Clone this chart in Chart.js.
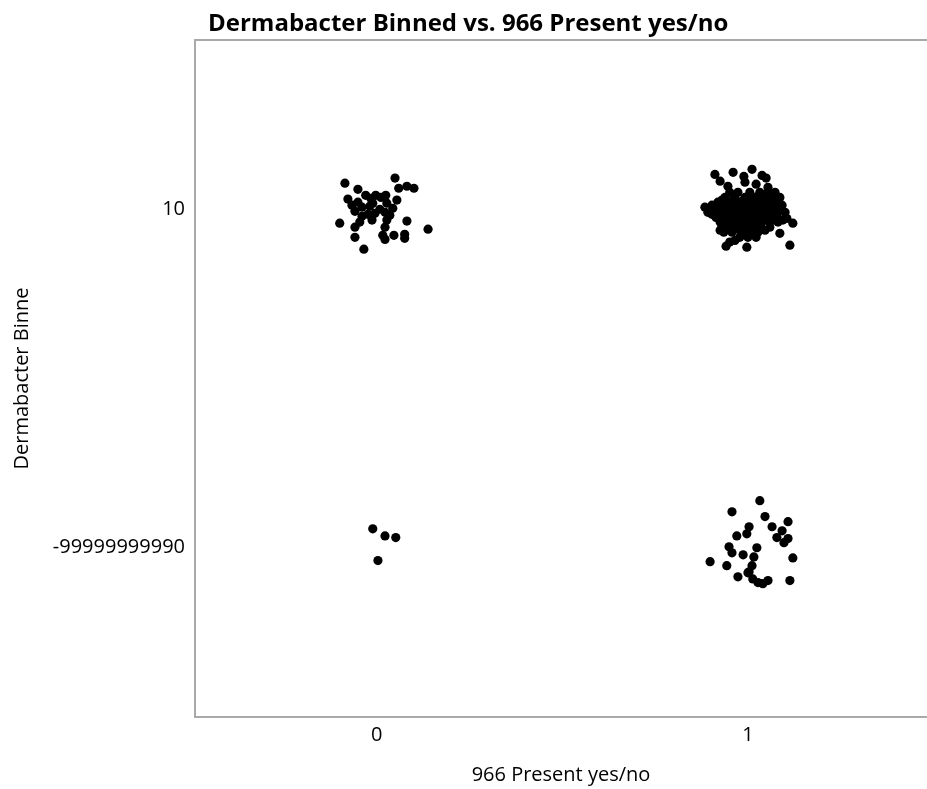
<!DOCTYPE html>
<html>
<head>
<meta charset="utf-8">
<title>Dermabacter Binned vs. 966 Present yes/no</title>
<script src="https://cdn.jsdelivr.net/npm/chart.js@4.4.0/dist/chart.umd.min.js"></script>
<style>
    html, body { margin: 0; padding: 0; background: #fff; }
    canvas { display: block; }
</style>
</head>
<body>
<canvas id="chart" width="927" height="789"></canvas>
<script>
// Etiquetas de los ejes (posicion 0 y 1 de cada eje)
const xTickLabels = ['0', '1'];
const yTickLabels = ['-99999999990', '10'];

// Puntos con jitter: 966 ausente (x=0), Dermabacter = 10 (y=1)
const absentTopX = [
    -0.086, 0.049, -0.051, 0.059, 0.081, 0.100, -0.078, 0.054, 0.043, -0.100,
    -0.059, -0.013, 0.027, 0.022, 0.081, 0.138, -0.059, 0.016, 0.022, 0.046,
    0.075, 0.075, -0.035, -0.051, -0.040, -0.030, -0.016, -0.003, 0.011, 0.024,
    0.027, 0.008, -0.005, -0.024, -0.040, -0.059, -0.067, -0.019, 0.022, 0.035,
    -0.011, -0.046
];
const absentTopY = [
    1.077, 1.092, 1.059, 1.062, 1.068, 1.062, 1.030, 1.027, 1.003, 0.959,
    0.947, 0.968, 0.968, 0.947, 0.965, 0.941, 0.917, 0.923, 0.911, 0.923,
    0.926, 0.914, 0.882, 1.021, 1.006, 1.041, 1.032, 1.041, 1.035, 1.041,
    1.018, 1.000, 0.988, 0.985, 0.979, 0.994, 1.012, 1.009, 0.991, 0.982,
    1.018, 0.962
];

// 966 ausente (x=0), Dermabacter = -99999999990 (y=0)
const absentLowX = [-0.011, 0.022, 0.051, 0.003];
const absentLowY = [0.056, 0.035, 0.030, -0.038];

// 966 presente (x=1), Dermabacter = 10 (y=1)
const presentTopX = [
    0.911, 0.960, 1.011, 0.989, 1.038, 1.049, 0.925, 0.946, 0.992, 1.054,
    0.884, 1.121, 1.105, 1.086, 1.113, 0.941, 0.951, 0.997, 0.930, 0.892,
    1.073, 1.086, 1.022, 1.073, 0.903, 0.965, 1.046, 1.094,
    0.951, 0.973, 1.005, 1.032, 1.054,
    0.938, 0.965, 0.992, 1.019, 1.046, 1.065,
    0.919, 0.946, 0.978, 1.005, 1.027, 1.049, 1.075,
    0.911, 0.930, 0.957, 0.984, 1.000, 1.019, 1.038, 1.059, 1.081,
    0.919, 0.941, 0.968, 0.992, 1.011, 1.032, 1.054, 1.075, 1.100,
    0.914, 0.935, 0.957, 0.978, 1.000, 1.022, 1.043, 1.065,
    0.925, 0.951, 0.973, 0.995, 1.016, 1.038, 1.059, 1.081,
    0.946, 0.968, 0.989, 1.011, 1.032, 1.059,
    0.935, 0.957, 0.984, 1.005, 1.027,
    0.978, 1.000, 1.022,
    0.992, 1.005, 0.978, 1.019, 1.000,
    0.930, 0.960, 0.989, 1.013, 1.038, 1.062,
    0.903, 0.943, 0.970, 1.011, 1.030, 1.070, 1.092,
    0.903, 0.930, 0.954, 0.981, 1.022, 1.043, 1.065, 1.086,
    0.925, 0.946, 0.968, 0.989, 1.032, 1.054, 1.078,
    0.938, 0.962, 0.984, 1.005, 1.027, 1.049, 1.073,
    0.925, 0.978, 1.000, 1.019
];
const presentTopY = [
    1.103, 1.109, 1.118, 1.097, 1.100, 1.092, 1.083, 1.068, 1.080, 1.065,
    1.006, 0.959, 0.973, 0.929, 0.894, 0.891, 0.903, 0.888, 0.947, 0.991,
    1.012, 1.035, 1.074, 1.050, 0.985, 0.908, 0.938, 0.968,
    1.050, 1.050, 1.050, 1.050, 1.050,
    1.035, 1.035, 1.035, 1.035, 1.035, 1.035,
    1.021, 1.021, 1.021, 1.021, 1.021, 1.021, 1.021,
    1.006, 1.006, 1.006, 1.006, 1.006, 1.006, 1.006, 1.006, 1.006,
    0.991, 0.991, 0.991, 0.991, 0.991, 0.991, 0.991, 0.991, 0.991,
    0.976, 0.976, 0.976, 0.976, 0.976, 0.976, 0.976, 0.976,
    0.962, 0.962, 0.962, 0.962, 0.962, 0.962, 0.962, 0.962,
    0.947, 0.947, 0.947, 0.947, 0.947, 0.947,
    0.932, 0.932, 0.932, 0.932, 0.932,
    0.917, 0.917, 0.917,
    1.000, 0.982, 0.991, 1.021, 0.956,
    1.027, 1.027, 1.027, 1.027, 1.027, 1.027,
    1.012, 1.012, 1.012, 1.012, 1.012, 1.012, 1.012,
    0.997, 0.997, 0.997, 0.997, 0.997, 0.997, 0.997, 0.997,
    0.982, 0.982, 0.982, 0.982, 0.982, 0.982, 0.982,
    0.968, 0.968, 0.968, 0.968, 0.968, 0.968, 0.968,
    0.938, 0.938, 0.938, 0.938
];

// 966 presente (x=1), Dermabacter = -99999999990 (y=0)
const presentLowX = [
    1.032, 0.957, 1.046, 1.108, 1.003, 1.065, 1.092, 0.970, 0.997, 1.078,
    1.108, 1.097, 0.949, 1.024, 0.957, 0.987, 1.016, 1.121, 0.898, 0.943,
    1.011, 1.003, 0.973, 1.000, 1.013, 1.027, 1.040, 1.054, 1.113
];
const presentLowY = [
    0.139, 0.106, 0.092, 0.077, 0.062, 0.062, 0.050, 0.035, 0.041, 0.030,
    0.027, 0.015, 0.003, 0.000, -0.015, -0.021, -0.027, -0.030, -0.041, -0.053,
    -0.053, -0.071, -0.086, -0.074, -0.092, -0.103, -0.106, -0.097, -0.097
];

const chartTitle = 'Dermabacter Binned vs. 966 Present yes/no';
const xTitle = '966 Present yes/no';
const yTitle = 'Dermabacter Binne';

const axisColor = '#a9a9a9';
const fontFamily = '"Open Sans", "Noto Sans", sans-serif';

// Juntar x e y en puntos para Chart.js
function toPoints(xs, ys) {
    return xs.map((x, i) => ({ x: x, y: ys[i] }));
}

const allPoints = [
    ...toPoints(absentTopX, absentTopY),
    ...toPoints(absentLowX, absentLowY),
    ...toPoints(presentTopX, presentTopY),
    ...toPoints(presentLowX, presentLowY)
];

// Linea superior del marco y titulo alineado a la izquierda
const frameAndTitle = {
    id: 'frameAndTitle',
    afterDraw(chart) {
        const { ctx, chartArea } = chart;
        ctx.save();
        ctx.strokeStyle = axisColor;
        ctx.lineWidth = 2;
        ctx.beginPath();
        ctx.moveTo(chartArea.left - 1, chartArea.top);
        ctx.lineTo(chartArea.right, chartArea.top);
        ctx.stroke();

        ctx.fillStyle = '#000';
        ctx.font = 'bold 24px ' + fontFamily;
        ctx.textBaseline = 'alphabetic';
        ctx.textAlign = 'left';
        ctx.fillText(chartTitle, chartArea.left + 13, 31);
        ctx.restore();
    }
};

new Chart(document.getElementById('chart').getContext('2d'), {
    type: 'scatter',
    data: {
        datasets: [{
            data: allPoints,
            backgroundColor: '#000',
            borderWidth: 0,
            pointRadius: 4.6,
            pointHoverRadius: 4.6
        }]
    },
    options: {
        responsive: false,
        animation: false,
        layout: {
            autoPadding: false,
            padding: { top: 40, right: 0, left: 0, bottom: 0 }
        },
        plugins: {
            legend: { display: false },
            tooltip: { enabled: false },
            title: { display: false }
        },
        scales: {
            x: {
                type: 'linear',
                min: -0.49,
                max: 1.4825,
                afterFit: scale => { scale.height = 72; },
                afterBuildTicks: scale => {
                    scale.ticks = xTickLabels.map((_, i) => ({ value: i }));
                },
                ticks: {
                    callback: value => xTickLabels[value],
                    color: '#000',
                    padding: 6,
                    font: { family: fontFamily, size: 20 }
                },
                grid: { display: false, drawTicks: false },
                border: { display: true, color: axisColor, width: 2 },
                title: {
                    display: true,
                    text: xTitle,
                    color: '#000',
                    padding: { top: 0, bottom: 2 },
                    font: { family: fontFamily, size: 20 }
                }
            },
            y: {
                type: 'linear',
                min: -0.5,
                max: 1.5,
                afterFit: scale => { scale.width = 195; },
                afterBuildTicks: scale => {
                    scale.ticks = yTickLabels.map((_, i) => ({ value: i }));
                },
                ticks: {
                    callback: value => yTickLabels[value],
                    color: '#000',
                    padding: 10,
                    font: { family: fontFamily, size: 20 }
                },
                grid: { display: false, drawTicks: false },
                border: { display: true, color: axisColor, width: 2 },
                title: {
                    display: true,
                    text: yTitle,
                    color: '#000',
                    padding: { top: 10, bottom: 0 },
                    font: { family: fontFamily, size: 20 }
                }
            }
        }
    },
    plugins: [frameAndTitle]
});
</script>
</body>
</html>
